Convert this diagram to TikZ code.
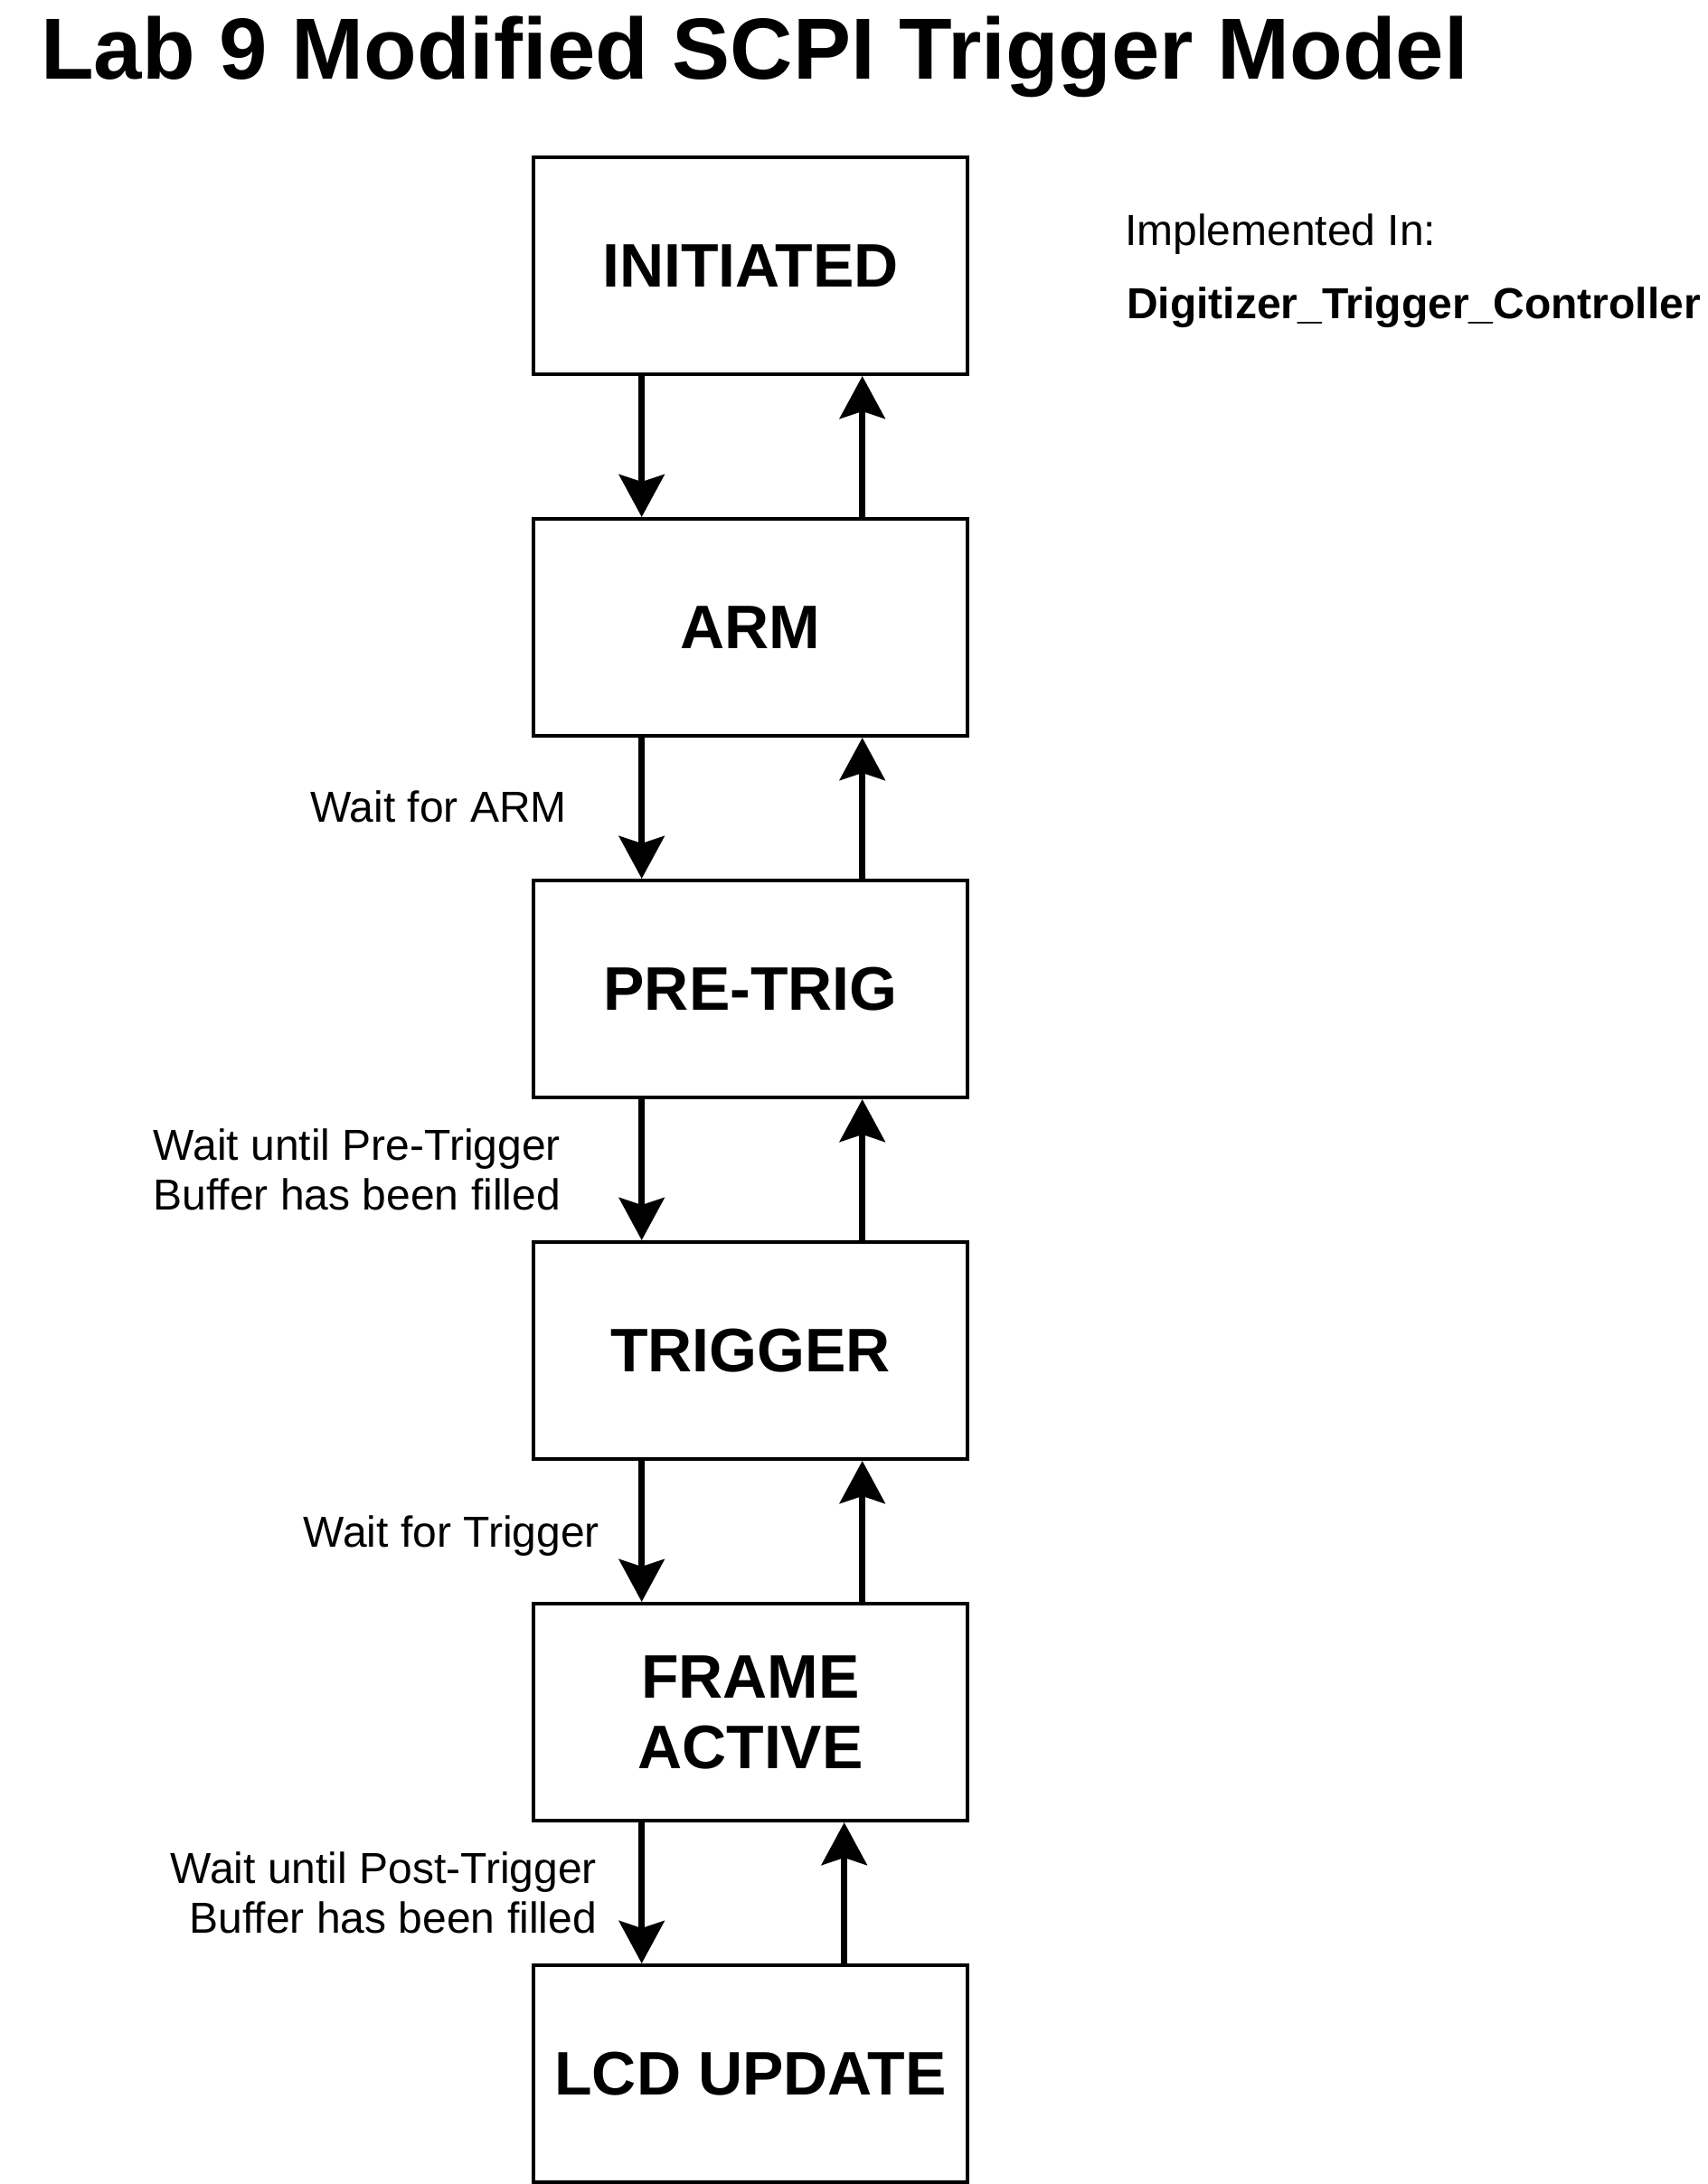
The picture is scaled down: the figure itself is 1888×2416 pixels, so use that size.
\documentclass[tikz,border=0pt]{standalone}
\usepackage{fontspec}
\setmainfont{Liberation Sans}
\usetikzlibrary{arrows.meta}
\begin{document}
\begin{tikzpicture}[x=1pt,y=-1pt,
  state/.style={draw, line width=4pt, minimum width=480pt, minimum height=240pt,
    inner sep=0pt, font=\fontsize{68}{78}\selectfont\bfseries, align=center},
  lbl/.style={inner sep=0pt, font=\fontsize{48}{55}\selectfont, align=right, anchor=base east},
  flow/.style={line width=7.3pt, -{Stealth[length=47pt,width=50pt,inset=8pt]}}]
\useasboundingbox (0,0) rectangle (1888,2416);

\node[inner sep=0pt, anchor=base west, font=\fontsize{96}{110}\selectfont\bfseries] (title) at (45,88) {Lab 9 Modified SCPI Trigger Model};

\node[state] (init) at (830,294) {INITIATED};
\node[state] (arm) at (830,694) {ARM};
\node[state] (pre) at (830,1094) {PRE-TRIG};
\node[state] (trig) at (830,1494) {TRIGGER};
\node[state] (frame) at (830,1894) {FRAME\\ACTIVE};
\node[state] (lcd) at (830,2294) {LCD UPDATE};

\node[inner sep=0pt, anchor=base west, font=\fontsize{48}{55}\selectfont] (impl) at (1244,272) {Implemented In:};
\node[inner sep=0pt, anchor=base west, font=\fontsize{48}{55}\selectfont\bfseries] (ctrl) at (1246,352) {Digitizer\_Trigger\_Controller};

\draw[flow] ([xshift=121.7pt]init.south west) -- ([xshift=121.7pt]arm.north west);
\draw[flow] ([xshift=365.7pt]arm.north west) -- ([xshift=365.7pt]init.south west);
\draw[flow] ([xshift=121.7pt]arm.south west) -- ([xshift=121.7pt]pre.north west);
\draw[flow] ([xshift=365.7pt]pre.north west) -- ([xshift=365.7pt]arm.south west);
\draw[flow] ([xshift=121.7pt]pre.south west) -- ([xshift=121.7pt]trig.north west);
\draw[flow] ([xshift=365.7pt]trig.north west) -- ([xshift=365.7pt]pre.south west);
\draw[flow] ([xshift=121.7pt]trig.south west) -- ([xshift=121.7pt]frame.north west);
\draw[flow] ([xshift=365.7pt]frame.north west) -- ([xshift=365.7pt]trig.south west);
\draw[flow] ([xshift=121.7pt]frame.south west) -- ([xshift=121.7pt]lcd.north west);
\draw[flow] ([xshift=345.7pt]lcd.north west) -- ([xshift=345.7pt]frame.south west);

\node[lbl] (l1) at (627,909) {Wait for ARM};
\node[lbl] (l2) at (620,1338) {Wait until Pre-Trigger\\Buffer has been filled};
\node[lbl] (l3) at (663,1711) {Wait for Trigger};
\node[lbl] (l4) at (660,2138) {Wait until Post-Trigger\\Buffer has been filled};
\end{tikzpicture}
\end{document}
